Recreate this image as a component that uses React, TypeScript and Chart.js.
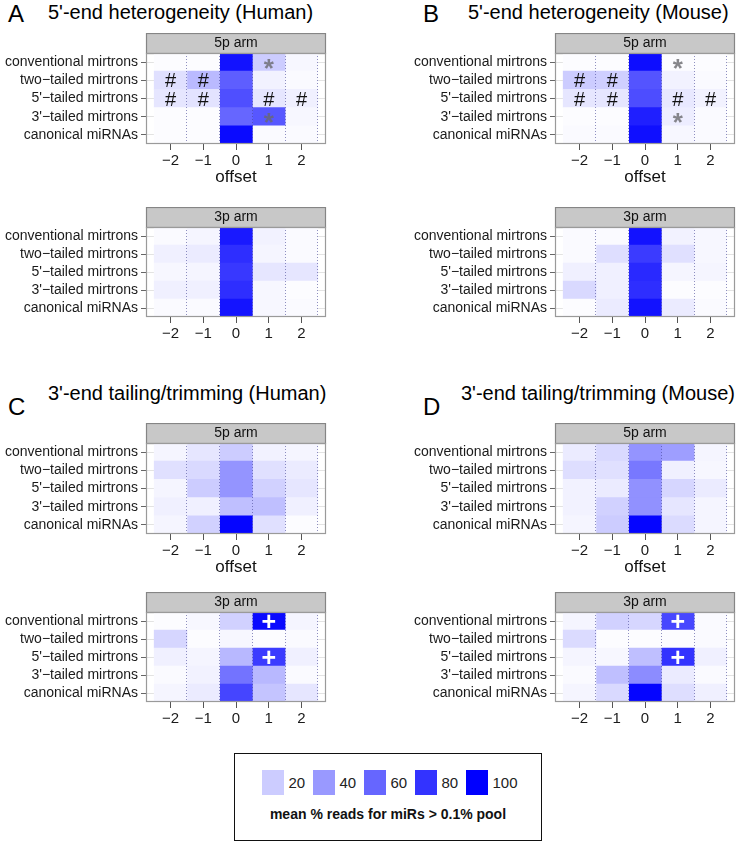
import React, { useEffect, useRef } from "react";
import { Chart, registerables } from "chart.js";

Chart.register(...registerables);

const FONT = "'Liberation Sans', Arial, Helvetica, sans-serif";
Chart.defaults.font.family = FONT;

// ---------- data ----------
const ROWS = [
  "conventional mirtrons",
  "two\u2212tailed mirtrons",
  "5'\u2212tailed mirtrons",
  "3'\u2212tailed mirtrons",
  "canonical miRNAs",
];
const OFFSETS = [-2, -1, 0, 1, 2];
const OFFSET_LABELS = ["\u22122", "\u22121", "0", "1", "2"];
const LEGEND_STEPS = [20, 40, 60, 80, 100];

// A: 5'-end heterogeneity (Human)
const humanEnd5_5p = [
  [1, 1, 93, 20, 3],
  [12, 27, 63, 5, 2],
  [10, 11, 69, 10, 6],
  [1, 1, 60, 66, 3],
  [1, 1, 96, 2, 2],
];
const humanEnd5_3p = [
  [2, 4, 90, 5, 2],
  [6, 8, 82, 4, 2],
  [3, 4, 78, 10, 10],
  [6, 6, 82, 3, 1],
  [2, 2, 92, 3, 2],
];
// B: 5'-end heterogeneity (Mouse)
const mouseEnd5_5p = [
  [1, 1, 95, 1, 1],
  [20, 19, 67, 5, 2],
  [10, 10, 70, 9, 5],
  [1, 1, 88, 7, 2],
  [2, 2, 94, 3, 2],
];
const mouseEnd5_3p = [
  [2, 2, 93, 5, 3],
  [2, 13, 77, 12, 3],
  [6, 6, 84, 4, 4],
  [15, 6, 82, 1, 1],
  [1, 8, 93, 8, 2],
];
// C: 3'-end tailing/trimming (Human)
const humanTail_5p = [
  [4, 10, 20, 5, 4],
  [12, 15, 42, 12, 8],
  [4, 20, 42, 18, 10],
  [6, 6, 25, 25, 6],
  [4, 18, 98, 12, 1],
];
const humanTail_3p = [
  [1, 3, 18, 96, 4],
  [16, 1, 3, 1, 2],
  [6, 4, 28, 77, 6],
  [2, 5, 55, 28, 2],
  [4, 8, 73, 23, 10],
];
// D: 3'-end tailing/trimming (Mouse)
const mouseTail_5p = [
  [8, 15, 42, 38, 4],
  [13, 12, 53, 6, 3],
  [5, 8, 43, 16, 8],
  [5, 18, 43, 10, 4],
  [4, 20, 98, 14, 4],
];
const mouseTail_3p = [
  [4, 18, 16, 72, 2],
  [14, 1, 1, 1, 2],
  [4, 3, 25, 80, 6],
  [2, 25, 45, 8, 2],
  [4, 15, 98, 13, 6],
];

// significance marks: row index, offset, symbol
const marksEnd5 = [
  { sym: "*", row: 0, off: 1 },
  { sym: "*", row: 3, off: 1 },
  { sym: "#", row: 1, off: -2 },
  { sym: "#", row: 1, off: -1 },
  { sym: "#", row: 2, off: -2 },
  { sym: "#", row: 2, off: -1 },
  { sym: "#", row: 2, off: 1 },
  { sym: "#", row: 2, off: 2 },
];
const marksTail3p = [
  { sym: "+", row: 0, off: 1 },
  { sym: "+", row: 2, off: 1 },
];
const noMarks: { sym: string; row: number; off: number }[] = [];

// ---------- helpers ----------
function heat(v: number): string {
  const c = Math.round(255 * (1 - v / 100));
  return `rgb(${c},${c},255)`;
}

const SYMBOL_STYLE: Record<string, { font: string; color: string; dy: number }> = {
  "*": { font: `bold 26px ${FONT}`, color: "rgba(105,105,110,0.8)", dy: 1.5 },
  "#": { font: `20px ${FONT}`, color: "#111", dy: 0 },
  "+": { font: `bold 25px ${FONT}`, color: "#fff", dy: 0 },
};

type Mark = { sym: string; row: number; off: number };

interface PanelProps {
  values: number[][];
  marks: Mark[];
  arm: string;
  left: number;
  top: number;
  width: number;
  yWidth: number;
  padRight: number;
  plotH: number;
  xTitle: boolean;
}

const STRIP_H = 20;

function HeatPanel(p: PanelProps) {
  const ref = useRef<HTMLCanvasElement | null>(null);
  const xH = p.xTitle ? 44 : 28;
  const h = STRIP_H + p.plotH + xH;

  useEffect(() => {
    const canvas = ref.current;
    if (!canvas) return;
    const stripPlugin = {
      id: "strip",
      beforeDraw(chart: any) {
        const { ctx, chartArea: a } = chart;
        ctx.save();
        ctx.fillStyle = "#c8c8c8";
        ctx.fillRect(a.left, a.top - STRIP_H, a.right - a.left, STRIP_H);
        ctx.strokeStyle = "#858585";
        ctx.lineWidth = 1.2;
        ctx.strokeRect(a.left + 0.5, a.top - STRIP_H + 0.5, a.right - a.left - 1, STRIP_H);
        ctx.restore();
      },
    };
    const frameAndMarks = {
      id: "frameMarks",
      afterDraw(chart: any) {
        const { ctx, chartArea: a, scales } = chart;
        const x = scales.x;
        const y = scales.y;
        ctx.save();
        p.marks.forEach((m) => {
          const st = SYMBOL_STYLE[m.sym];
          ctx.font = st.font;
          ctx.fillStyle = st.color;
          ctx.textAlign = "center";
          ctx.textBaseline = "alphabetic";
          const mt = ctx.measureText(m.sym);
          const cx = x.getPixelForValue(m.off);
          const cy = y.getPixelForValue(m.row);
          const yb = cy + (mt.actualBoundingBoxAscent - mt.actualBoundingBoxDescent) / 2 + st.dy;
          ctx.fillText(m.sym, cx, yb);
        });
        ctx.strokeStyle = "#9a9a9a";
        ctx.lineWidth = 1.2;
        ctx.strokeRect(a.left + 0.5, a.top + 0.5, a.right - a.left - 1, a.bottom - a.top - 1);
        ctx.restore();
      },
    };

    const chart = new Chart(canvas, {
      type: "bar",
      data: {
        labels: ROWS,
        datasets: OFFSETS.map((off, j) => ({
          label: String(off),
          data: ROWS.map(() => [off - 0.5, off + 0.5]),
          backgroundColor: p.values.map((r) => heat(r[j])),
          borderWidth: 0,
          barPercentage: 1,
          categoryPercentage: 1,
          grouped: false,
        })),
      } as any,
      options: {
        indexAxis: "y",
        animation: false,
        responsive: false,
        maintainAspectRatio: false,
        layout: { padding: { top: 0, left: 0, bottom: 0, right: p.padRight } },
        plugins: {
          legend: { display: false },
          tooltip: { enabled: false },
          title: {
            display: true,
            text: p.arm,
            fullSize: false,
            color: "#111",
            font: { size: 14, weight: "normal", family: FONT },
            padding: { top: 2, bottom: 1.2 },
          },
        },
        scales: {
          x: {
            type: "linear",
            min: -2.75,
            max: 2.75,
            afterBuildTicks: (axis: any) => {
              const t: { value: number }[] = [];
              for (let v = -2.5; v <= 2.5001; v += 0.5) t.push({ value: Math.round(v * 2) / 2 });
              axis.ticks = t;
            },
            afterFit: (axis: any) => {
              axis.height = xH;
            },
            ticks: {
              autoSkip: false,
              maxRotation: 0,
              padding: 2,
              color: "#1a1a1a",
              font: { size: 15, family: FONT },
              callback: (v: any) => {
                const i = OFFSETS.indexOf(Number(v));
                return i >= 0 ? OFFSET_LABELS[i] : "";
              },
            },
            grid: {
              z: 1,
              lineWidth: 1,
              tickLength: 6,
              color: (ctx: any) => {
                const v = ctx.tick ? ctx.tick.value : 0;
                return !Number.isInteger(v) && v > -2.5 ? "rgba(70,70,150,0.6)" : "rgba(0,0,0,0)";
              },
              tickColor: (ctx: any) => {
                const v = ctx.tick ? ctx.tick.value : 0.5;
                return Number.isInteger(v) ? "#555" : "rgba(0,0,0,0)";
              },
            },
            border: { display: false, dash: [1, 2] },
            title: {
              display: p.xTitle,
              text: "offset",
              color: "#111",
              font: { size: 17, family: FONT },
              padding: 0,
            },
          },
          y: {
            type: "category",
            offset: true,
            afterFit: (axis: any) => {
              axis.width = p.yWidth;
            },
            ticks: {
              padding: 3,
              color: "#1a1a1a",
              font: { size: 14, family: FONT },
              autoSkip: false,
            },
            grid: {
              offset: false,
              color: "#e3e3e3",
              tickColor: "#666",
              tickLength: 5,
            },
            border: { display: false },
          },
        },
      } as any,
      plugins: [stripPlugin, frameAndMarks],
    });
    return () => chart.destroy();
  }, []);

  return (
    <div style={{ position: "absolute", left: p.left, top: p.top, width: p.width, height: h }}>
      <canvas ref={ref} width={p.width} height={h} style={{ display: "block", width: p.width, height: h }} />
    </div>
  );
}

function PanelTitle(props: { letter: string; text: string; letterX: number; letterBase: number; textX: number; textBase: number }) {
  const lf = 24;
  const tf = 20;
  return (
    <>
      <div
        style={{
          position: "absolute",
          left: props.letterX,
          top: props.letterBase - 0.8465 * lf,
          fontSize: lf,
          lineHeight: `${lf}px`,
          fontFamily: FONT,
          color: "#000",
          whiteSpace: "nowrap",
        }}
      >
        {props.letter}
      </div>
      <div
        style={{
          position: "absolute",
          left: props.textX,
          top: props.textBase - 0.8465 * tf,
          fontSize: tf,
          lineHeight: `${tf}px`,
          fontFamily: FONT,
          color: "#000",
          whiteSpace: "nowrap",
        }}
      >
        {props.text}
      </div>
    </>
  );
}

export default function App() {
  const L = { left: 0, width: 340, yWidth: 146, padRight: 14 };
  const R = { left: 368, width: 368, yWidth: 187, padRight: 1 };
  return (
    <div
      style={{
        position: "absolute",
        left: 0,
        top: 0,
        width: 736,
        height: 842,
        overflow: "hidden",
        background: "#fff",
        fontFamily: FONT,
      }}
    >
      <PanelTitle letter="A" text="5'-end heterogeneity (Human)" letterX={8} letterBase={22} textX={48} textBase={18.5} />
      <PanelTitle letter="B" text="5'-end heterogeneity (Mouse)" letterX={423} letterBase={22} textX={468} textBase={18.5} />
      <PanelTitle letter="C" text="3'-end tailing/trimming (Human)" letterX={8} letterBase={415} textX={48} textBase={400} />
      <PanelTitle letter="D" text="3'-end tailing/trimming (Mouse)" letterX={423} letterBase={415} textX={461} textBase={400} />

      <HeatPanel values={humanEnd5_5p} marks={marksEnd5} arm="5p arm" top={33} plotH={91} xTitle={true} {...L} />
      <HeatPanel values={humanEnd5_3p} marks={noMarks} arm="3p arm" top={207} plotH={90} xTitle={false} {...L} />
      <HeatPanel values={mouseEnd5_5p} marks={marksEnd5} arm="5p arm" top={33} plotH={91} xTitle={true} {...R} />
      <HeatPanel values={mouseEnd5_3p} marks={noMarks} arm="3p arm" top={207} plotH={90} xTitle={false} {...R} />

      <HeatPanel values={humanTail_5p} marks={noMarks} arm="5p arm" top={423} plotH={91} xTitle={true} {...L} />
      <HeatPanel values={humanTail_3p} marks={marksTail3p} arm="3p arm" top={592} plotH={90} xTitle={false} {...L} />
      <HeatPanel values={mouseTail_5p} marks={noMarks} arm="5p arm" top={423} plotH={91} xTitle={true} {...R} />
      <HeatPanel values={mouseTail_3p} marks={marksTail3p} arm="3p arm" top={592} plotH={90} xTitle={false} {...R} />

      <div
        style={{
          position: "absolute",
          left: 234,
          top: 753,
          width: 308,
          height: 88,
          border: "1.5px solid #111",
          boxSizing: "border-box",
        }}
      >
        {LEGEND_STEPS.map((v, i) => (
          <React.Fragment key={v}>
            <div
              style={{
                position: "absolute",
                left: 26.5 + i * 51,
                top: 15.5,
                width: 22,
                height: 25,
                background: heat(v),
              }}
            />
            <div
              style={{
                position: "absolute",
                left: 26.5 + i * 51 + 27,
                top: 15.5,
                height: 25,
                lineHeight: "25px",
                fontSize: 15,
                color: "#222",
                whiteSpace: "nowrap",
              }}
            >
              {v}
            </div>
          </React.Fragment>
        ))}
        <div
          style={{
            position: "absolute",
            left: 0,
            right: 0,
            top: 51.5,
            lineHeight: "17px",
            textAlign: "center",
            fontWeight: "bold",
            fontSize: 14,
            color: "#111",
            whiteSpace: "nowrap",
          }}
        >
          mean % reads for miRs &gt; 0.1% pool
        </div>
      </div>
    </div>
  );
}
